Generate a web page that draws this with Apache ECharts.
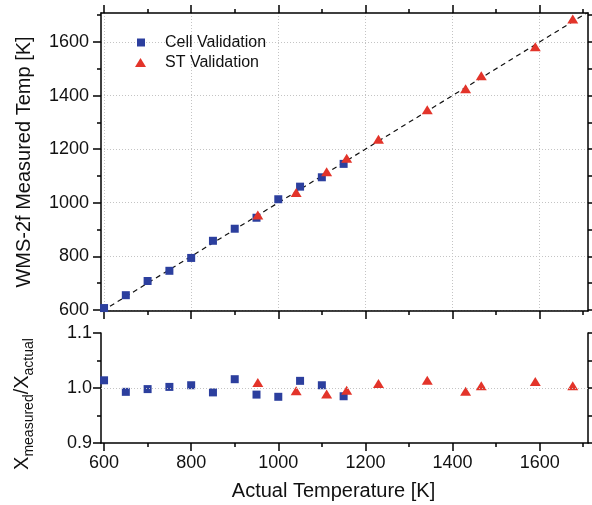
<!DOCTYPE html>
<html><head><meta charset="utf-8">
<script src="https://cdn.jsdelivr.net/npm/echarts@6/dist/echarts.min.js"></script>
<style>html,body{margin:0;padding:0;background:#fff}#c{width:592px;height:505px}</style>
</head><body><div id="c"></div>
<script>
// ---- data ----
const cellActual   = [600, 650, 700, 750, 800, 850, 900, 950, 1000, 1050, 1100, 1150];
const cellMeasured = [607, 655, 708, 746, 794, 858, 903, 944, 1013, 1060, 1095, 1145];
const cellRatio    = [1.014, 0.993, 0.998, 1.002, 1.005, 0.992, 1.016, 0.988, 0.984, 1.013, 1.005, 0.985];
const stActual     = [953, 1041, 1111, 1157, 1230, 1342, 1430, 1466, 1590, 1676];
const stMeasured   = [954, 1038, 1116, 1166, 1237, 1347, 1425, 1474, 1582, 1686];
const stRatio      = [1.010, 0.995, 0.989, 0.996, 1.008, 1.014, 0.994, 1.004, 1.012, 1.004];
const xTickValues    = [600, 800, 1000, 1200, 1400, 1600];
const yTopTickValues = [600, 800, 1000, 1200, 1400, 1600];
const yBotTickValues = [0.9, 1.0, 1.1];
const refLine = [[596, 596], [1708, 1708]];
const xRange = [593, 1711];
const yTopRange = [596, 1708];
const yBotRange = [0.9, 1.1];

const FONT = 'Liberation Sans, Arial, Helvetica, sans-serif';
const BLUE = '#2C3F9E';
const RED = '#E3342A';
const lineSt = { color: '#000', width: 1.5 };
const gridSt = { color: '#c4c4c4', width: 1, type: [1, 2] };
const plain = v => String(v);

function axis(o) {
  return Object.assign({
    type: 'value',
    axisLine: { show: true, onZero: false, lineStyle: lineSt },
    axisTick: { show: true, inside: false, length: 8, lineStyle: lineSt },
    minorTick: { show: true, splitNumber: 2, length: 4, lineStyle: lineSt },
    axisLabel: { show: false },
    splitLine: { show: false },
    minorSplitLine: { show: false }
  }, o);
}
const zip = (a, b) => a.map((v, i) => [v, b[i]]);

const option = {
  animation: false,
  backgroundColor: '#fff',
  textStyle: { fontFamily: FONT, color: '#111' },
  grid: [
    { left: 101, right: 4, top: 13, bottom: 194, outerBoundsMode: 'none', show: false },
    { left: 101, right: 4, top: 333, bottom: 62, outerBoundsMode: 'none', show: false }
  ],
  legend: [
    { data: ['Cell Validation'], left: 137, top: 34.5, padding: 0, itemWidth: 8, itemHeight: 8, icon: 'rect',
      textStyle: { fontSize: 16, fontFamily: FONT, color: '#111', padding: [0, 0, 0, 15] } },
    { data: ['ST Validation'], left: 135, top: 54.5, padding: 0, itemWidth: 11, itemHeight: 9, icon: 'triangle',
      textStyle: { fontSize: 16, fontFamily: FONT, color: '#111', padding: [0, 0, 0, 14] } }
  ],
  xAxis: [
    axis({ gridIndex: 0, position: 'bottom', min: xRange[0], max: xRange[1],
      axisTick: { show: true, length: 8, lineStyle: lineSt, customValues: xTickValues },
      splitLine: { show: true, lineStyle: gridSt } }),
    axis({ gridIndex: 0, position: 'top', min: xRange[0], max: xRange[1],
      axisTick: { show: true, length: 8, lineStyle: lineSt, customValues: xTickValues } }),
    axis({ gridIndex: 1, position: 'bottom', min: xRange[0], max: xRange[1],
      axisTick: { show: true, length: 8, lineStyle: lineSt, customValues: xTickValues },
      axisLabel: { show: true, customValues: xTickValues, margin: 11, fontSize: 18, color: '#111', fontFamily: FONT, formatter: plain },
      name: 'Actual Temperature [K]', nameLocation: 'middle', nameGap: 38,
      nameTextStyle: { fontSize: 20, color: '#111', fontFamily: FONT, padding: [0, 22, 0, 0] } })
  ],
  yAxis: [
    axis({ gridIndex: 0, position: 'left', min: yTopRange[0], max: yTopRange[1],
      axisTick: { show: true, length: 8, lineStyle: lineSt, customValues: yTopTickValues },
      axisLabel: { show: true, customValues: yTopTickValues, margin: 12, fontSize: 18, color: '#111', fontFamily: FONT, formatter: plain },
      splitLine: { show: true, lineStyle: gridSt },
      name: 'WMS-2f Measured Temp [K]', nameLocation: 'middle', nameGap: 67, nameRotate: 90,
      nameTextStyle: { fontSize: 20, color: '#111', fontFamily: FONT } }),
    axis({ gridIndex: 0, position: 'right', min: yTopRange[0], max: yTopRange[1],
      axisTick: { show: true, length: 8, lineStyle: lineSt, customValues: yTopTickValues } }),
    axis({ gridIndex: 1, position: 'left', min: yBotRange[0], max: yBotRange[1], interval: 0.1,
      axisTick: { show: true, length: 8, lineStyle: lineSt, customValues: yBotTickValues },
      axisLabel: { show: true, customValues: yBotTickValues, margin: 9, fontSize: 18, color: '#111', fontFamily: FONT,
        formatter: v => Number(v).toFixed(1) },
      name: '{b|X}{s|measured}{b|/X}{s|actual}', nameLocation: 'middle', nameGap: 65, nameRotate: 90,
      nameTextStyle: { color: '#111', fontFamily: FONT, padding: [0, 32, 0, 0],
        rich: {
          b: { fontSize: 20, lineHeight: 24, verticalAlign: 'top', fontFamily: FONT, color: '#111' },
          s: { fontSize: 14, lineHeight: 15, verticalAlign: 'bottom', fontFamily: FONT, color: '#111' }
        } } }),
    axis({ gridIndex: 1, position: 'right', min: yBotRange[0], max: yBotRange[1], interval: 0.1,
      axisTick: { show: true, length: 8, lineStyle: lineSt, customValues: yBotTickValues } })
  ],
  series: [
    { name: 'ref', type: 'line', xAxisIndex: 0, yAxisIndex: 0, data: refLine, symbol: 'none', silent: true, z: 1,
      lineStyle: { color: '#111', width: 1.2, type: [5, 4] } },
    { name: 'Cell Validation', type: 'scatter', xAxisIndex: 0, yAxisIndex: 0, data: zip(cellActual, cellMeasured),
      symbol: 'rect', symbolSize: 8, itemStyle: { color: BLUE, opacity: 1 }, z: 3 },
    { name: 'ST Validation', type: 'scatter', xAxisIndex: 0, yAxisIndex: 0, data: zip(stActual, stMeasured),
      symbol: 'triangle', symbolSize: [11, 9], itemStyle: { color: RED, opacity: 1 }, z: 4 },
    { name: 'Cell Validation', type: 'scatter', xAxisIndex: 2, yAxisIndex: 2, data: zip(cellActual, cellRatio),
      symbol: 'rect', symbolSize: 8, itemStyle: { color: BLUE, opacity: 1 }, z: 3,
      markLine: { silent: true, symbol: 'none', label: { show: false }, lineStyle: gridSt, data: [{ yAxis: 1 }] } },
    { name: 'ST Validation', type: 'scatter', xAxisIndex: 2, yAxisIndex: 2, data: zip(stActual, stRatio),
      symbol: 'triangle', symbolSize: [11, 9], itemStyle: { color: RED, opacity: 1 }, z: 4 }
  ]
};
const chart = echarts.init(document.getElementById('c'), null, { renderer: 'canvas' });
chart.setOption(option);
</script>
</body></html>
